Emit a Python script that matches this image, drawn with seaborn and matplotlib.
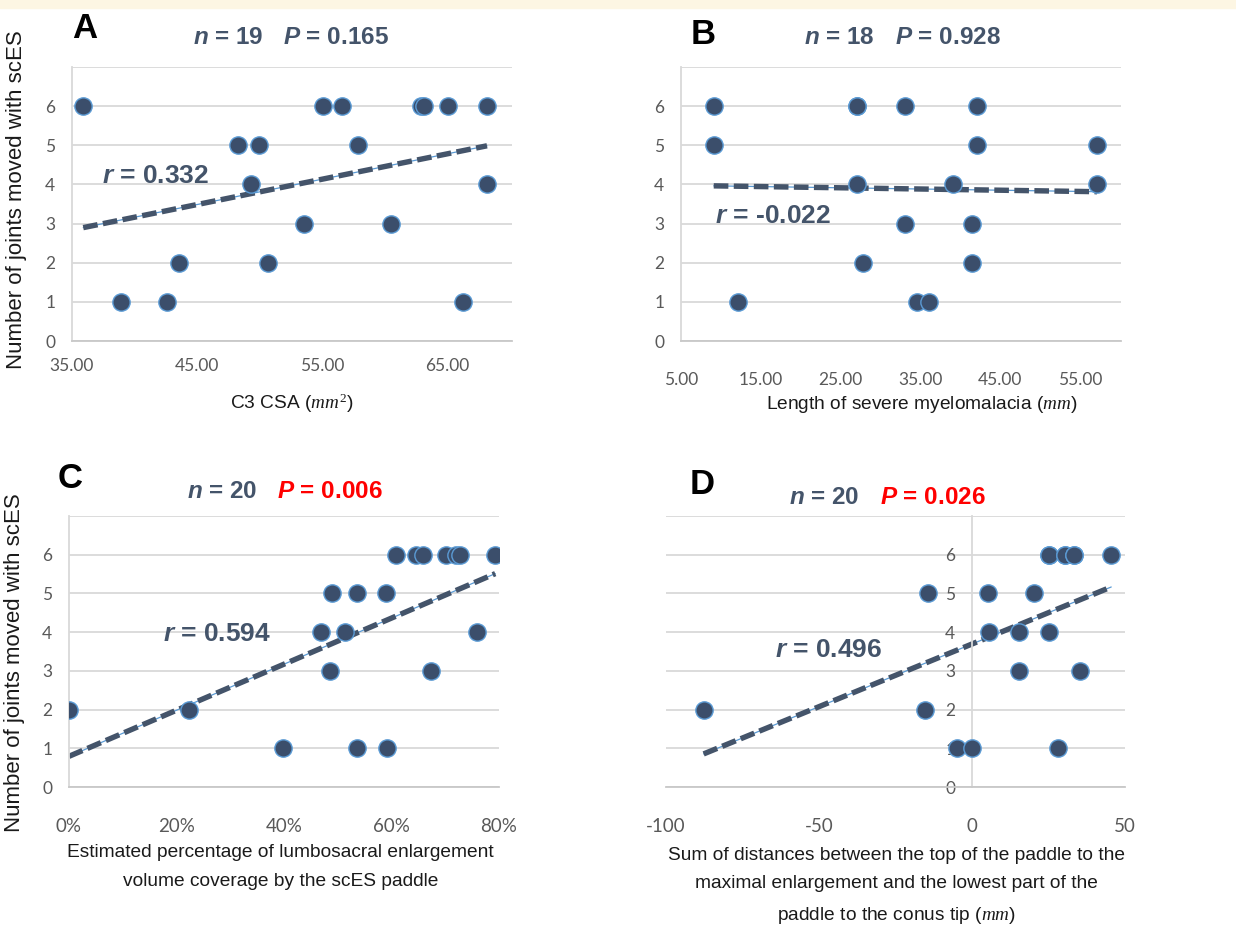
import matplotlib
matplotlib.use('Agg')
import matplotlib.pyplot as plt
import seaborn as sns
from matplotlib import font_manager
from matplotlib.ticker import FormatStrFormatter, PercentFormatter

# panel A - C3 cross sectional area
csa_mm2 = [35.9, 38.9, 42.6, 43.6, 48.3, 50.0, 49.3, 50.7, 53.6, 55.1,
           56.6, 57.9, 60.5, 62.9, 63.2, 65.1, 66.3, 68.2, 68.2]
csa_joints = [6, 1, 1, 2, 5, 5, 4, 2, 3, 6, 6, 5, 3, 6, 6, 6, 1, 6, 4]

# panel B - length of severe myelomalacia (one 6 hidden behind another at 27.1)
myelo_mm = [9.1, 9.1, 12.2, 27.1, 27.1, 27.1, 27.8, 33.1, 33.1, 34.6,
            36.1, 39.0, 42.1, 42.1, 41.4, 41.4, 57.1, 57.1]
myelo_joints = [6, 5, 1, 6, 6, 4, 2, 6, 3, 1, 1, 4, 6, 5, 3, 2, 5, 4]

# panel C - lumbosacral enlargement coverage
coverage = [0.0, 0.223, 0.398, 0.468, 0.485, 0.489, 0.513, 0.536, 0.535, 0.589,
            0.592, 0.608, 0.645, 0.659, 0.674, 0.702, 0.720, 0.728, 0.759, 0.793]
coverage_joints = [2, 2, 1, 4, 3, 5, 4, 5, 1, 5, 1, 6, 6, 6, 3, 6, 6, 6, 4, 6]

# panel D - sum of paddle distances (three 6s overlap others)
dist_mm = [-87.7, -15.4, -14.5, -5.0, 0.0, 5.3, 5.6, 15.2, 15.2, 20.1,
           25.3, 25.3, 25.3, 28.1, 30.5, 30.5, 33.2, 33.2, 35.4, 45.5]
dist_joints = [2, 2, 5, 1, 1, 5, 4, 4, 3, 5, 6, 6, 4, 1, 6, 6, 6, 6, 3, 6]

panel_letters = ['A', 'B', 'C', 'D']
n_labels = ['19', '18', '20', '20']
p_labels = ['0.165', '0.928', '0.006', '0.026']
p_colors = ['#44546a', '#44546a', '#ff0000', '#ff0000']
r_labels = ['0.332', '-0.022', '0.594', '0.496']

sns.set_style('white')
plt.rcParams['font.family'] = ['Liberation Sans', 'DejaVu Sans']
plt.rcParams['axes.unicode_minus'] = False
plt.rcParams['mathtext.fontset'] = 'custom'
plt.rcParams['mathtext.rm'] = 'Liberation Serif'
plt.rcParams['mathtext.it'] = 'Liberation Serif:italic'
plt.rcParams['mathtext.bf'] = 'Liberation Sans:bold'
plt.rcParams['mathtext.bfit'] = 'Liberation Sans:italic:bold'

installed = {f.name for f in font_manager.fontManager.ttflist}
if 'Liberation Sans Narrow' in installed:
    label_font, label_size, label_ls = 'Liberation Sans Narrow', 16.5, 1.4
else:
    label_font, label_size, label_ls = 'Liberation Sans', 13.8, 1.85

slate = '#44546a'
dot = '#3b4e6b'
edge = '#5b9bd5'
grid = '#d9d9d9'
tickc = '#595959'

fig = plt.figure(figsize=(12.36, 9.25), dpi=100)
W, H = 1236, 925


def box(l, t, r, b):
    return [l / W, 1 - b / H, (r - l) / W, (b - t) / H]


fig.add_artist(plt.Rectangle((0, 1 - 8 / H), 1, 8 / H, transform=fig.transFigure,
                             color='#fdf6e3', zorder=0))

axA = fig.add_axes(box(72, 67, 512, 341))
axB = fig.add_axes(box(681, 67, 1121, 341))
axC = fig.add_axes(box(69, 516, 499, 787))
axD = fig.add_axes(box(666, 516, 1125, 787))
axes = [axA, axB, axC, axD]
xs = [csa_mm2, myelo_mm, coverage, dist_mm]
ys = [csa_joints, myelo_joints, coverage_joints, dist_joints]

for i, ax in enumerate(axes):
    x, y = xs[i], ys[i]
    sns.regplot(x=x, y=y, ax=ax, scatter=False, ci=None, truncate=True,
                line_kws=dict(color=edge, lw=0.9, zorder=2))
    sns.regplot(x=x, y=y, ax=ax, scatter=False, ci=None, truncate=True,
                line_kws=dict(color=slate, lw=3.9, linestyle=(0, (2.7, 1.0)),
                              dash_capstyle='butt', zorder=2))
    sns.scatterplot(x=x, y=y, ax=ax, s=155, color=dot, edgecolor=edge,
                    linewidth=1.0, zorder=3)
    ax.set_ylim(0, 7)
    ax.set_yticks(range(8))
    ax.set_yticklabels([str(v) for v in range(7)] + [''])
    ax.yaxis.grid(True, color=grid, lw=1.3)
    ax.set_axisbelow(True)
    for s in ['top', 'right']:
        ax.spines[s].set_visible(False)
    ax.spines['bottom'].set_color('#c8c8c8')
    ax.spines['bottom'].set_linewidth(1.3)
    ax.spines['left'].set_color(grid)
    ax.spines['left'].set_linewidth(1.3)
    ax.tick_params(length=0, labelsize=12.5, labelcolor=tickc)

axA.set_xlim(35, 70.2)
axA.set_xticks([35, 45, 55, 65])
axA.xaxis.set_major_formatter(FormatStrFormatter('%.2f'))
axB.set_xlim(5, 60.1)
axB.set_xticks([5, 15, 25, 35, 45, 55])
axB.xaxis.set_major_formatter(FormatStrFormatter('%.2f'))
axC.set_xlim(0, 0.8)
axC.set_xticks([0, 0.2, 0.4, 0.6, 0.8])
axC.xaxis.set_major_formatter(PercentFormatter(1.0, decimals=0))
axD.set_xlim(-100, 50)
axD.set_xticks([-100, -50, 0, 50])
axD.spines['left'].set_position(('data', 0))

axA.tick_params(axis='x', pad=12)
axB.tick_params(axis='x', pad=22)
axC.tick_params(axis='x', pad=22, labelsize=13.5)
axD.tick_params(axis='x', pad=22, labelsize=13.5)
for ax in axes:
    ax.tick_params(axis='y', pad=12)
    for t in ax.get_xticklabels() + ax.get_yticklabels():
        t.set_fontfamily('Lato')

# y labels
for ax in [axA, axC]:
    ax.set_ylabel('Number of joints moved with scES', fontsize=16, color='#1a1a1a')
axA.yaxis.set_label_coords(-0.102, 0.515)
axC.yaxis.set_label_coords(-0.102, 0.458)

# x labels
lab = dict(fontsize=label_size, fontfamily=label_font, color='#1a1a1a', linespacing=label_ls)
axA.set_xlabel('C3 CSA ($mm^2$)', **lab)
axA.xaxis.set_label_coords(0.5, -0.185)
axB.set_xlabel('Length of severe myelomalacia ($mm$)', **lab)
axB.xaxis.set_label_coords(0.548, -0.195)
axC.set_xlabel('Estimated percentage of lumbosacral enlargement\nvolume coverage by the scES paddle', **lab)
axC.xaxis.set_label_coords(0.492, -0.212)
axD.set_xlabel('Sum of distances between the top of the paddle to the\n'
               'maximal enlargement and the lowest part of the\n'
               'paddle to the conus tip ($mm$)', **lab)
axD.xaxis.set_label_coords(0.503, -0.222)

# titles and panel letters
title_x = [0.4545, 0.461, 0.458, 0.442]
title_y = [1.106, 1.106, 1.089, 1.07]
for i, ax in enumerate(axes):
    ax.text(title_x[i] - 0.020, title_y[i], r'$\mathbfit{n}$ = ' + n_labels[i],
            transform=ax.transAxes, ha='right', va='center', fontsize=17.5,
            fontweight='bold', color=slate)
    ax.text(title_x[i] + 0.025, title_y[i], r'$\mathbfit{P}$ = ' + p_labels[i],
            transform=ax.transAxes, ha='left', va='center', fontsize=17.5,
            fontweight='bold', color=p_colors[i])

letter_pos = [(72, 12), (691, 18), (58, 462), (690, 468)]
for i, (px, py) in enumerate(letter_pos):
    fig.text(px / W, 1 - py / H, panel_letters[i], ha='left', va='top',
             fontsize=25, fontweight='bold', color='black')

# r annotations
r_pos = [(37.4, 4.22), (9.3, 3.2), (0.175, 3.94), (-64.5, 3.55)]
for i, ax in enumerate(axes):
    ax.text(r_pos[i][0], r_pos[i][1], r'$\mathbfit{r}$ = ' + r_labels[i],
            ha='left', va='center', fontsize=19, fontweight='bold', color=slate)

fig.savefig('out.png', dpi=100, facecolor='white')
